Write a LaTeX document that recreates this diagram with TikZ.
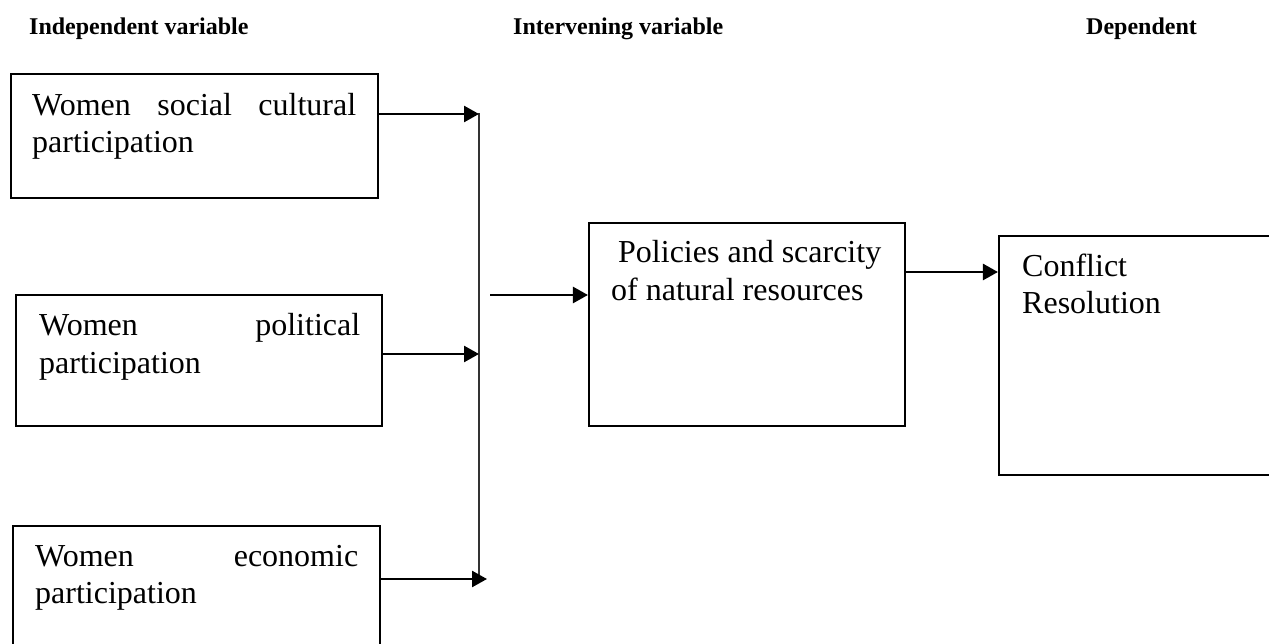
\documentclass[tikz,border=0pt]{standalone}
\usepackage{fontspec}
\setmainfont{Liberation Serif}
\usetikzlibrary{arrows.meta}
\tikzset{
  box/.style={draw=black, line width=2.1pt, inner sep=0pt, rectangle},
  txt/.style={anchor=base west, inner sep=0pt, font=\fontsize{32}{37}\selectfont},
  head/.style={anchor=base west, inner sep=0pt, font=\fontsize{24}{28}\selectfont\bfseries},
  arr/.style={line width=2.6pt, -{Triangle[length=15pt,width=16pt]}},
  bus/.style={line width=1.4pt, draw=black!80}
}
\begin{document}
\begin{tikzpicture}[x=1pt,y=-1pt]
\useasboundingbox (0,0) rectangle (1269,644);
\clip (0,0) rectangle (1269,644);
% headers
\node[head] (h1) at (29,35) {Independent variable};
\node[head] (h2) at (513,35) {Intervening variable};
\node[head] (h3) at (1086,35) {Dependent};
% boxes
\node[box, minimum width=367pt, minimum height=124pt] (b1) at (194.5,136) {};
\node[box, minimum width=366pt, minimum height=131pt] (b2) at (199,360.5) {};
\node[box, minimum width=367pt, minimum height=140pt] (b3) at (196.5,596) {};
\node[box, minimum width=316pt, minimum height=203pt] (b4) at (747,324.5) {};
\node[box, minimum width=290pt, minimum height=239pt] (b5) at (1144,355.5) {};
% texts
\node[txt] (t1a) at (32,116) {\makebox[324pt][s]{Women social cultural}};
\node[txt] (t1b) at (32,153) {participation};
\node[txt] (t2a) at (39,335) {\makebox[321pt][s]{Women political}};
\node[txt] (t2b) at (39,373) {participation};
\node[txt] (t3a) at (35,566) {\makebox[323pt][s]{Women economic}};
\node[txt] (t3b) at (35,603) {participation};
\node[txt] (t4a) at (618,263) {Policies and scarcity};
\node[txt] (t4b) at (611,301) {of natural resources};
\node[txt] (t5a) at (1022,277) {Conflict};
\node[txt] (t5b) at (1022,313) {Resolution};
% connector points
\coordinate (v1) at (479,114);
\coordinate (v2) at (479,354);
\coordinate (v3) at (479,579);
\coordinate (e3) at (487,579);
\coordinate (m) at (490,295);
\coordinate (p) at (905,272);
% connectors
\draw[bus] (479,113) -- (v3);
\draw[arr] (v1 -| b1.east) -- (v1);
\draw[arr] (v2 -| b2.east) -- (v2);
\draw[arr] (e3 -| b3.east) -- (e3);
\draw[arr] (m) -- (m -| b4.west);
\draw[arr] (p -| b4.east) -- (p -| b5.west);
\end{tikzpicture}
\end{document}
